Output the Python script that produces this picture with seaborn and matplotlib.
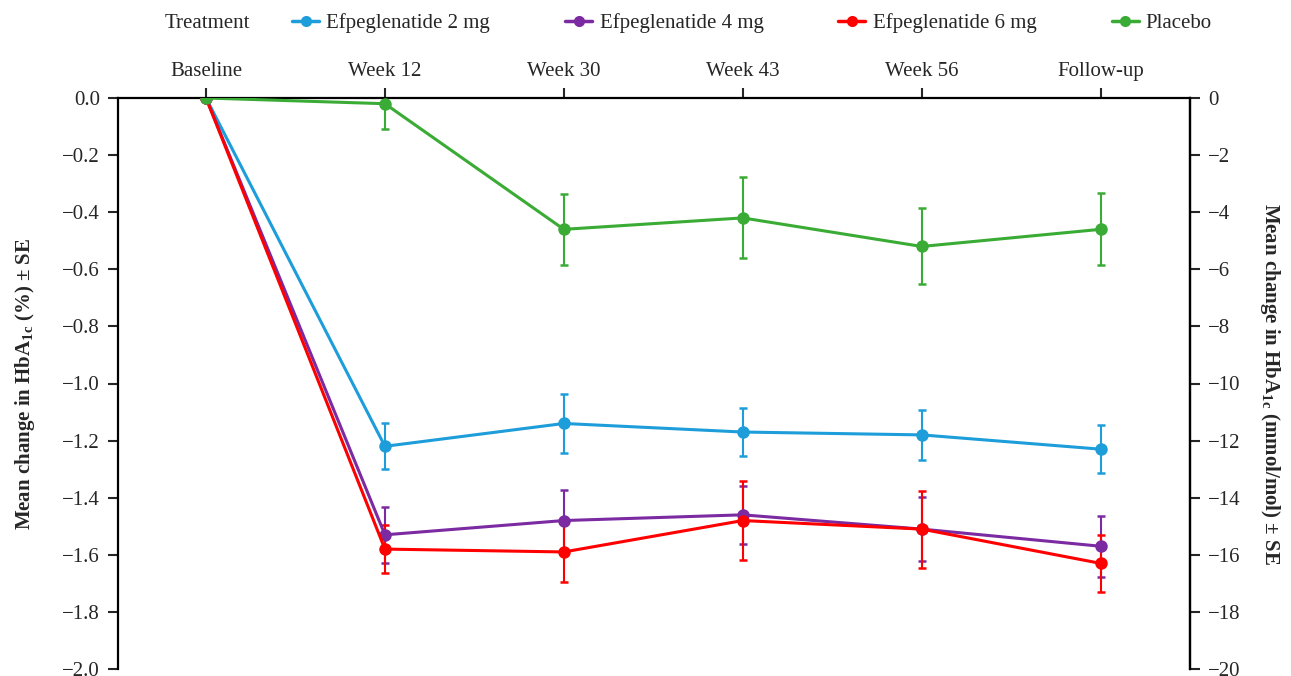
import numpy as np
import pandas as pd
import matplotlib
matplotlib.use("Agg")
import matplotlib.pyplot as plt
from matplotlib.lines import Line2D
import seaborn as sns

# ---- data ----
visits = ["Baseline", "Week 12", "Week 30", "Week 43", "Week 56", "Follow-up"]
groups = ["Efpeglenatide 2 mg", "Efpeglenatide 4 mg", "Efpeglenatide 6 mg", "Placebo"]
mean_2mg = [0.0, -1.22, -1.14, -1.17, -1.18, -1.23]
se_2mg = [0.0, 0.08, 0.103, 0.084, 0.087, 0.085]
mean_4mg = [0.0, -1.53, -1.48, -1.46, -1.51, -1.57]
se_4mg = [0.0, 0.098, 0.108, 0.102, 0.113, 0.107]
mean_6mg = [0.0, -1.58, -1.59, -1.48, -1.51, -1.63]
se_6mg = [0.0, 0.083, 0.107, 0.138, 0.135, 0.10]
mean_pbo = [0.0, -0.02, -0.46, -0.42, -0.52, -0.46]
se_pbo = [0.0, 0.088, 0.125, 0.142, 0.133, 0.126]
left_ticks = [-2.0, -1.8, -1.6, -1.4, -1.2, -1.0, -0.8, -0.6, -0.4, -0.2, 0.0]
right_ticks = [-20, -18, -16, -14, -12, -10, -8, -6, -4, -2, 0]
colors = ["#1d9dd9", "#7b2aa2", "#ff0000", "#3aab35"]

means = [mean_2mg, mean_4mg, mean_6mg, mean_pbo]
ses = [se_2mg, se_4mg, se_6mg, se_pbo]

rows = []
for g, m, s in zip(groups, means, ses):
    for i, v in enumerate(visits):
        rows.append({"idx": i, "visit": v, "group": g, "change": m[i], "se": s[i]})
df = pd.DataFrame(rows)

# ---- style ----
sns.set_style("ticks")
plt.rcParams["font.family"] = ["Liberation Serif", "DejaVu Serif"]
plt.rcParams["mathtext.fontset"] = "custom"
plt.rcParams["mathtext.rm"] = "Liberation Serif:bold"
plt.rcParams["mathtext.default"] = "rm"

FS = 15
W, H = 1291, 676
fig = plt.figure(figsize=(W / 100, H / 100), dpi=100)
ax = fig.add_axes([118 / W, 1 - 669 / H, (1190 - 118) / W, (669 - 98) / H])

palette = dict(zip(groups, colors))
for g in groups:
    sub = df[df.group == g]
    ax.errorbar(sub["idx"].values[1:], sub["change"].values[1:], yerr=sub["se"].values[1:],
                fmt="none", ecolor=palette[g], elinewidth=1.5, capsize=3.2, capthick=1.8, zorder=2)

sns.lineplot(data=df, x="idx", y="change", hue="group", hue_order=groups, palette=palette,
             marker="o", markersize=9, markeredgewidth=0, linewidth=2.2, legend=False,
             ax=ax, zorder=3, errorbar=None)

def fmt(v, nd):
    s = f"{v:.{nd}f}"
    if float(s) == 0:
        s = s.lstrip("-")
    return s.replace("-", "\u2212")

ax.set_xlim(-0.492, 5.50)
ax.set_ylim(-2.0, 0.0)
ax.set_yticks(left_ticks)
ax.set_yticklabels([fmt(v, 1) for v in left_ticks])
ax.set_xticks(range(len(visits)))
ax.set_xticklabels(visits)
ax.xaxis.tick_top()
ax.set_xlabel("")
ax.tick_params(axis="x", which="both", top=True, bottom=False, labeltop=True, labelbottom=False,
               direction="out", length=7, width=1.5, pad=5, labelsize=FS)
ax.tick_params(axis="y", direction="out", length=7, width=1.5, pad=6, labelsize=FS)
for sp in ["left", "top", "right"]:
    ax.spines[sp].set_visible(True)
    ax.spines[sp].set_linewidth(1.6)
    ax.spines[sp].set_color("black")
ax.spines["bottom"].set_visible(False)
ax.set_ylabel(r"Mean change in HbA$_{1c}$ (%) ± SE", fontsize=FS, fontweight="bold", labelpad=18)

ax2 = ax.twinx()
ax2.set_ylim(-20, 0)
ax2.set_yticks(right_ticks)
ax2.set_yticklabels([fmt(v, 0) for v in right_ticks])
ax2.tick_params(axis="y", direction="out", length=7, width=1.5, pad=6, labelsize=FS)
for sp in ["left", "top", "bottom"]:
    ax2.spines[sp].set_visible(False)
ax2.spines["right"].set_linewidth(1.6)
ax2.spines["right"].set_color("black")
ax2.set_ylabel(r"Mean change in HbA$_{1c}$ (mmol/mol) ± SE", fontsize=FS, fontweight="bold",
               rotation=270, labelpad=30)

# ---- legend ----
fig.text(165 / W, 1 - 23 / H, "Treatment", fontsize=FS, ha="left", va="center")
handles = [Line2D([0], [0], color=c, lw=2.5, marker="o", markersize=8, markeredgewidth=0) for c in colors]
fig.legend(handles, groups, loc="center left", bbox_to_anchor=(292 / W, 1 - 23 / H), ncol=4,
           frameon=False, fontsize=FS, handlelength=1.3, handletextpad=0.35, columnspacing=3.6,
           borderpad=0, borderaxespad=0)

fig.savefig("out.png", dpi=100)
